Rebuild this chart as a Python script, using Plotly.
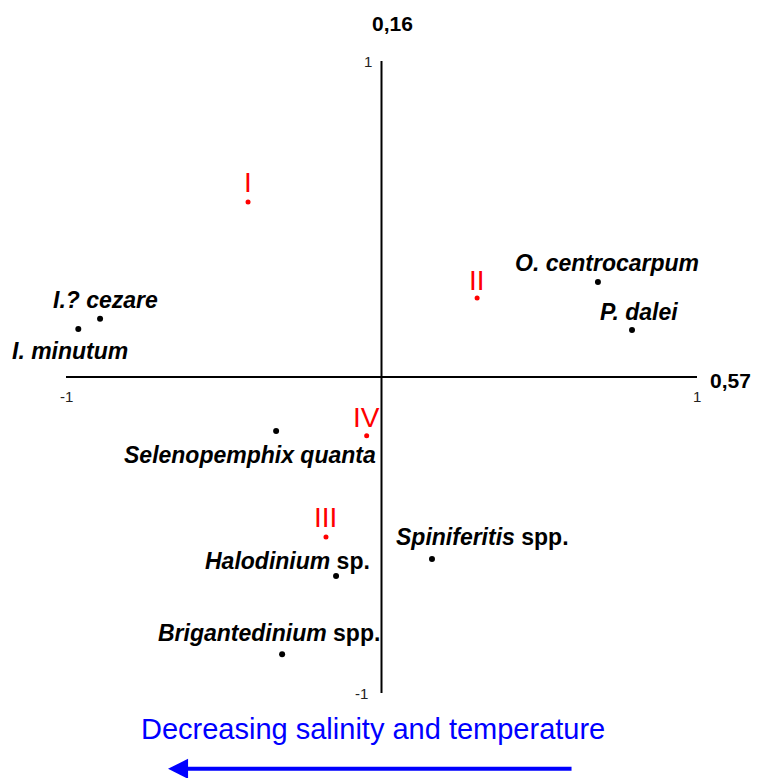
import plotly.graph_objects as go

# ---- data ----
species = ["O. centrocarpum", "P. dalei", "I.? cezare", "I. minutum",
           "Selenopemphix quanta", "Spiniferitis spp.", "Halodinium sp.",
           "Brigantedinium spp."]
species_label = ["<b><i>O. centrocarpum</i></b>", "<b><i>P. dalei</i></b>",
                 "<b><i>I.? cezare</i></b>", "<b><i>I. minutum</i></b>",
                 "<b><i>Selenopemphix quanta</i></b>",
                 "<b><i>Spiniferitis</i> spp.</b>",
                 "<b><i>Halodinium</i> sp.</b>",
                 "<b><i>Brigantedinium</i> spp.</b>"]
species_x = [0.686, 0.794, -0.892, -0.961, -0.334, 0.160, -0.144, -0.315]
species_y = [0.301, 0.149, 0.184, 0.152, -0.171, -0.576, -0.630, -0.877]

groups = ["I", "II", "III", "IV"]
group_x = [-0.423, 0.303, -0.176, -0.047]
group_y = [0.554, 0.250, -0.506, -0.186]

axis_ticks = ["-1", "1"]
x_axis_label = "0,57"
y_axis_label = "0,16"
arrow_text = "Decreasing salinity and temperature"

# ---- label offsets (pixels) ----
species_dx = [9.5, 7, 5, -8, -26, 50.5, -48.5, -13.5]
species_dy = [19, 17.5, 19, -22, -23.5, 22, 15.5, 21.5]
group_dy = [19, 18, 19, 18.5]

FONT = "Liberation Sans, Arial, sans-serif"

fig = go.Figure()
fig.add_trace(go.Scatter(x=species_x, y=species_y, mode="markers",
                         marker=dict(color="black", size=6),
                         hoverinfo="text", hovertext=species, showlegend=False))
fig.add_trace(go.Scatter(x=group_x, y=group_y, mode="markers",
                         marker=dict(color="red", size=5),
                         hoverinfo="text", hovertext=groups, showlegend=False))

ann = []
for lab, x, y, dx, dy in zip(species_label, species_x, species_y, species_dx, species_dy):
    ann.append(dict(x=x, y=y, xref="x", yref="y", text=lab, showarrow=False,
                    xshift=dx, yshift=dy, xanchor="center", yanchor="middle",
                    font=dict(family=FONT, size=23, color="black")))
for lab, x, y, dy in zip(groups, group_x, group_y, group_dy):
    ann.append(dict(x=x, y=y, xref="x", yref="y", text=lab, showarrow=False,
                    yshift=dy, xanchor="center", yanchor="middle",
                    font=dict(family=FONT, size=28, color="red")))

tick_font = dict(family=FONT, size=15, color="#222")
# y-axis end labels
ann.append(dict(x=0, y=1, xref="x", yref="y", text=axis_ticks[1], showarrow=False,
                xanchor="right", yanchor="middle", xshift=-8, font=tick_font))
ann.append(dict(x=0, y=-1, xref="x", yref="y", text=axis_ticks[0], showarrow=False,
                xanchor="right", yanchor="middle", xshift=-12, font=tick_font))
# x-axis end labels
ann.append(dict(x=-1, y=0, xref="x", yref="y", text=axis_ticks[0], showarrow=False,
                xanchor="center", yanchor="middle", yshift=-19, font=tick_font))
ann.append(dict(x=1, y=0, xref="x", yref="y", text=axis_ticks[1], showarrow=False,
                xanchor="center", yanchor="middle", yshift=-19, font=tick_font))

bold_font = dict(family=FONT, size=21, color="black")
ann.append(dict(x=0.518, y=1.059, xref="paper", yref="paper",
                text="<b>" + y_axis_label + "</b>", showarrow=False,
                xanchor="center", yanchor="middle", font=bold_font))
ann.append(dict(x=1.053, y=0.495, xref="paper", yref="paper",
                text="<b>" + x_axis_label + "</b>", showarrow=False,
                xanchor="center", yanchor="middle", font=bold_font))

ann.append(dict(x=0.4865, y=-0.057, xref="paper", yref="paper",
                text=arrow_text, showarrow=False, xanchor="center", yanchor="middle",
                font=dict(family=FONT, size=29, color="#0000FF")))
ann.append(dict(x=0.1617, y=-0.120, xref="paper", yref="paper", text="",
                showarrow=True, ax=405, ay=0, arrowhead=2, arrowsize=1,
                arrowwidth=4, arrowcolor="#0000FF", standoff=0))

shapes = [
    dict(type="line", x0=-1, x1=1, y0=0, y1=0, xref="x", yref="y",
         line=dict(color="black", width=2)),
    dict(type="line", x0=0, x1=0, y0=-1, y1=1, xref="x", yref="y",
         line=dict(color="black", width=2)),
]

fig.update_layout(
    width=761, height=778,
    margin=dict(l=66, r=64, t=61, b=85),
    paper_bgcolor="white", plot_bgcolor="white",
    xaxis=dict(range=[-1, 1], visible=False, fixedrange=True),
    yaxis=dict(range=[-1, 1], visible=False, fixedrange=True),
    annotations=ann, shapes=shapes, showlegend=False,
)
fig.write_html("out.html")
